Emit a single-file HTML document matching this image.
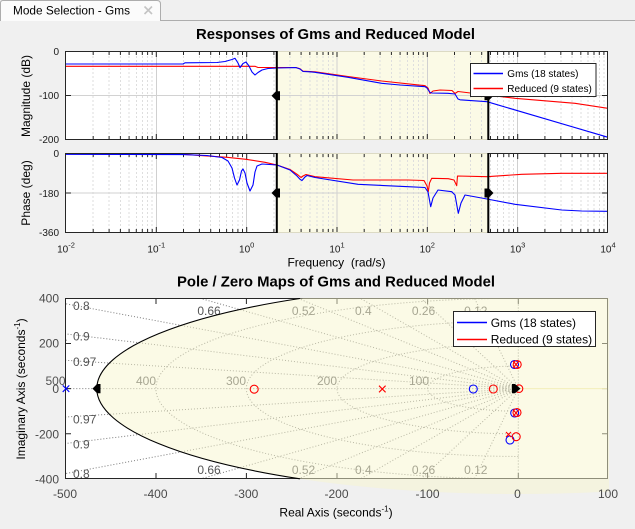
<!DOCTYPE html>
<html><head><meta charset="utf-8"><style>
html,body{margin:0;padding:0;background:#f0f0f0;width:635px;height:529px;overflow:hidden;}
svg{display:block;font-family:"Liberation Sans",Arial,sans-serif;}
</style></head><body>
<svg width="635" height="529" viewBox="0 0 635 529" xmlns="http://www.w3.org/2000/svg">
<defs>
<clipPath id="cMag"><rect x="66" y="52" width="541" height="87"/></clipPath>
<clipPath id="cPh"><rect x="66" y="154" width="541" height="78"/></clipPath>
<clipPath id="cPz"><rect x="66" y="299" width="541" height="179.5"/></clipPath>
<clipPath id="cPzB"><rect x="65" y="298" width="544" height="481"/></clipPath>
<path id="mg" d="M93.2 0V240M109.1 0V240M120.4 0V240M129.1 0V240M136.3 0V240M142.3 0V240M147.6 0V240M152.2 0V240M183.5 0V240M199.4 0V240M210.7 0V240M219.5 0V240M226.6 0V240M232.7 0V240M237.9 0V240M242.5 0V240M273.9 0V240M289.8 0V240M301.1 0V240M309.8 0V240M317 0V240M323 0V240M328.3 0V240M332.9 0V240M364.2 0V240M380.1 0V240M391.4 0V240M400.1 0V240M407.3 0V240M413.3 0V240M418.6 0V240M423.2 0V240M454.5 0V240M470.4 0V240M481.7 0V240M490.5 0V240M497.6 0V240M503.7 0V240M508.9 0V240M513.5 0V240M544.9 0V240M560.8 0V240M572.1 0V240M580.8 0V240M588 0V240M594 0V240M599.3 0V240M603.9 0V240"/>
<path id="Mg" d="M156.3 0V240M246.7 0V240M337 0V240M427.3 0V240M517.7 0V240"/>
<path id="tk" d="M93.2 0v3M109.1 0v3M120.4 0v3M129.1 0v3M136.3 0v3M142.3 0v3M147.6 0v3M152.2 0v3M183.5 0v3M199.4 0v3M210.7 0v3M219.5 0v3M226.6 0v3M232.7 0v3M237.9 0v3M242.5 0v3M273.9 0v3M289.8 0v3M301.1 0v3M309.8 0v3M317 0v3M323 0v3M328.3 0v3M332.9 0v3M364.2 0v3M380.1 0v3M391.4 0v3M400.1 0v3M407.3 0v3M413.3 0v3M418.6 0v3M423.2 0v3M454.5 0v3M470.4 0v3M481.7 0v3M490.5 0v3M497.6 0v3M503.7 0v3M508.9 0v3M513.5 0v3M544.9 0v3M560.8 0v3M572.1 0v3M580.8 0v3M588 0v3M594 0v3M599.3 0v3M603.9 0v3M156.3 0v5M246.7 0v5M337 0v5M427.3 0v5M517.7 0v5"/>
</defs>
<rect width="635" height="529" fill="#f0f0f0"/>

<!-- Tab -->
<path d="M0.5 21V3Q0.5 0.5 3 0.5H157Q160.5 0.5 160.5 4V21" fill="#fbfbfb" stroke="#adadad"/>
<path d="M160.5 20.5H635" stroke="#adadad"/>
<text x="13" y="14.5" font-size="11.5" fill="#000" textLength="117" lengthAdjust="spacingAndGlyphs">Mode Selection - Gms</text>
<path d="M144.5 6.5L152 14M152 6.5L144.5 14" stroke="#c4c4c4" stroke-width="1.6"/>

<!-- Bode title -->
<text x="335.5" y="39" font-size="14.7" font-weight="bold" text-anchor="middle" textLength="279" lengthAdjust="spacingAndGlyphs">Responses of Gms and Reduced Model</text>

<!-- ===== Magnitude axes ===== -->
<rect x="65.5" y="51.5" width="542" height="88" fill="#fff"/>
<rect x="277" y="51.5" width="211" height="88" fill="#fbfae6"/>
<g clip-path="url(#cMag)">
<use href="#mg" stroke="#dedede" stroke-width="1" stroke-dasharray="2 2" shape-rendering="crispEdges"/>
<use href="#Mg" stroke="#d0d0d0" stroke-width="1" shape-rendering="crispEdges"/>
<path d="M66 95.5H607" stroke="#d2d2d2" shape-rendering="crispEdges"/>
</g>
<g stroke="#262626" stroke-width="1" fill="none">
<use href="#tk" transform="translate(0,52)"/>
<use href="#tk" transform="translate(0,139) scale(1,-1)"/>
<path d="M66 95.5h5M607 95.5h-5"/>
<path d="M65.5 51V140M607.5 51V140M65 51.5H277M488 51.5H608M65 139.5H277M488 139.5H608"/>
</g>
<path d="M277 51.5H488M277 139.5H488" stroke="#dcdac4"/>
<g clip-path="url(#cMag)" fill="none" stroke-width="1.1" stroke-linejoin="round">
<polyline stroke="#ff0000" points="66,66.3 255,66.3 258,67.5 296,67.5 300,68.8 303,71.2 315,71.8 348,76.5 381.7,81 425,85.7 428,88 430,93.5 433,91 440,90 452,90.5 455,93.5 458,91.5 487,95 515,98.3 575,103.3 608,108.3"/>
<polyline stroke="#0000ff" points="66,64 183,64 185,62.8 217,62.5 225,61.5 232,59.5 235,58.3 238,63 240,67.7 243,63.5 246,62 249,66 252,72 255,75 258,72.5 262,70 268,68.5 277,68 296,67.6 300,69 303,71.5 310,71.8 315,72.3 348,77.3 381.7,83.3 400,85 425,86.7 427,88 430,92.5 432,93 448,93.3 455,94 458,99 460,99.8 487,101.7 608,137.3"/>
</g>
<path d="M276.8 51V140M488.3 51V140" stroke="#000" stroke-width="2"/>
<polygon points="271.5,95.7 276,91.3 280,91.3 280,100.3 276,100.3" fill="#000"/>
<polygon points="484.5,91.3 489,91.3 493.5,95.7 489,100.3 484.5,100.3" fill="#000"/>
<!-- legend -->
<rect x="470.5" y="63.5" width="125.5" height="33" fill="#fff" stroke="#262626"/>
<path d="M473.5 73.5H503" stroke="#0000ff" stroke-width="1.4"/>
<path d="M473.5 88.5H503" stroke="#ff0000" stroke-width="1.4"/>
<text x="507.3" y="77" font-size="10" fill="#000">Gms (18 states)</text>
<text x="507.3" y="92" font-size="10" fill="#000">Reduced (9 states)</text>
<!-- mag tick labels -->
<g font-size="10" fill="#1a1a1a" text-anchor="end">
<text x="59" y="55.2">0</text>
<text x="59" y="99.2">-100</text>
<text x="59" y="143.2">-200</text>
</g>
<text transform="translate(30,96) rotate(-90)" font-size="12" text-anchor="middle" fill="#000">Magnitude (dB)</text>

<!-- ===== Phase axes ===== -->
<rect x="65.5" y="153.5" width="542" height="79" fill="#fff"/>
<rect x="277" y="153.5" width="211" height="79" fill="#fbfae6"/>
<g clip-path="url(#cPh)">
<use href="#mg" stroke="#dedede" stroke-width="1" stroke-dasharray="2 2" shape-rendering="crispEdges"/>
<use href="#Mg" stroke="#d0d0d0" stroke-width="1" shape-rendering="crispEdges"/>
<path d="M66 193H607" stroke="#d2d2d2" shape-rendering="crispEdges"/>
</g>
<g stroke="#262626" stroke-width="1" fill="none">
<use href="#tk" transform="translate(0,154)"/>
<use href="#tk" transform="translate(0,232) scale(1,-1)"/>
<path d="M66 193h5M607 193h-5"/>
<path d="M65.5 153V233M607.5 153V233M65 153.5H277M488 153.5H608M65 232.5H277M488 232.5H608"/>
</g>
<path d="M277 153.5H488M277 232.5H488" stroke="#dcdac4"/>
<g clip-path="url(#cPh)" fill="none" stroke-width="1.1" stroke-linejoin="round">
<polyline stroke="#ff0000" points="66,154 183,154.3 227,157.3 246,159.3 265,162.3 277,165 290,169.5 298,175 301,177.5 303,176 306,174.5 315,176.7 353,180 408,180 424,180.5 427,186 428.3,191.7 429.5,183 431.7,178.3 448.3,178.7 454,180 456.7,185.7 457.5,176 487,176.7 521.7,174.3 561.7,173.3 608,173.3"/>
<polyline stroke="#0000ff" points="66,154.3 183,154.6 207,155.5 222,157.5 228,161 232,168 234.5,178 237,185 239.5,180 241.5,171 243,169 245,173 247,183 250,191 253,185 255,172 257,166 262,164 277,165 290,170 297,176 300,179.3 302,180.5 305,177 307,175.5 315,177.5 358,184.3 408,186.7 425,187.5 428,192 430.7,206.7 433,198 438,190 451.7,191.7 455,195 458.3,213.3 461,203 465,195 487,199 515,204.3 561.7,210 581.7,211 608,211.3"/>
</g>
<path d="M276.8 153V233M488.3 153V233" stroke="#000" stroke-width="2"/>
<polygon points="271.5,193 276,188.5 280,188.5 280,197.5 276,197.5" fill="#000"/>
<polygon points="484.5,188.5 489,188.5 493.5,193 489,197.5 484.5,197.5" fill="#000"/>
<g font-size="10" fill="#1a1a1a" text-anchor="end">
<text x="59" y="157.2">0</text>
<text x="59" y="196.8">-180</text>
<text x="59" y="236.2">-360</text>
</g>
<text transform="translate(30,193) rotate(-90)" font-size="12" text-anchor="middle" fill="#000">Phase (deg)</text>
<g font-size="10" fill="#1a1a1a" text-anchor="middle">
<text x="66" y="252.5">10<tspan font-size="7.5" dy="-5">-2</tspan></text>
<text x="156.3" y="252.5">10<tspan font-size="7.5" dy="-5">-1</tspan></text>
<text x="246.7" y="252.5">10<tspan font-size="7.5" dy="-5">0</tspan></text>
<text x="337" y="252.5">10<tspan font-size="7.5" dy="-5">1</tspan></text>
<text x="427.3" y="252.5">10<tspan font-size="7.5" dy="-5">2</tspan></text>
<text x="517.7" y="252.5">10<tspan font-size="7.5" dy="-5">3</tspan></text>
<text x="608" y="252.5">10<tspan font-size="7.5" dy="-5">4</tspan></text>
</g>
<text x="336.5" y="266.5" font-size="12" text-anchor="middle" fill="#000" xml:space="preserve">Frequency  (rad/s)</text>

<!-- ===== Pole/Zero ===== -->
<text x="336" y="286.7" font-size="14.7" font-weight="bold" text-anchor="middle" textLength="318" lengthAdjust="spacingAndGlyphs">Pole / Zero Maps of Gms and Reduced Model</text>
<rect x="65.5" y="298.5" width="542" height="180" fill="#fff"/>
<g clip-path="url(#cPz)" fill="none" stroke="#7a7a7a" stroke-width="1" stroke-dasharray="1 2">
<path d="M518.3 388.65L474.6 298.5M518.3 388.65L474.6 478.8M518.3 388.65L421 298.5M518.3 388.65L421 478.8M518.3 388.65L360.6 298.5M518.3 388.65L360.6 478.8M518.3 388.65L298.4 298.5M518.3 388.65L298.4 478.8M518.3 388.65L200.9 298.5M518.3 388.65L200.9 478.8M518.3 388.65L66 303.8M518.3 388.65L66 473.5M518.3 388.65L66 333.9M518.3 388.65L66 443.4M518.3 388.65L66 360.3M518.3 388.65L66 417M518.3 388.65L66 388.65M518.3 298.5V478.8"/>
<path d="M518.3 366.05A90.65 22.6 0 0 0 518.3 411.25M518.3 343.45A181.3 45.2 0 0 0 518.3 433.85M518.3 320.85A271.95 67.8 0 0 0 518.3 456.45M518.3 298.25A362.6 90.4 0 0 0 518.3 479.05M518.3 386.4A9.1 2.26 0 0 0 518.3 390.9M518.3 385.5A12.7 3.16 0 0 0 518.3 391.8M518.3 384.6A16.3 4.07 0 0 0 518.3 392.7"/>
<path d="M66.6 340A453.25 113 0 0 0 66.6 437" />
</g>
<g font-size="12" fill="#555">
<text x="73" y="310">0.8</text>
<text x="73" y="340.7">0.9</text>
<text x="73" y="366">0.97</text>
<text x="73" y="423.3">0.97</text>
<text x="73" y="448.3">0.9</text>
<text x="73" y="478">0.8</text>
<text x="209" y="315" text-anchor="middle">0.66</text>
<text x="209" y="474" text-anchor="middle">0.66</text>
<text x="65.5" y="385" text-anchor="end">500</text>
<text x="303.5" y="315" text-anchor="middle">0.52</text>
<text x="303.5" y="474" text-anchor="middle">0.52</text>
<text x="363.3" y="315" text-anchor="middle">0.4</text>
<text x="363.3" y="474" text-anchor="middle">0.4</text>
<text x="423.5" y="315" text-anchor="middle">0.26</text>
<text x="423.5" y="474" text-anchor="middle">0.26</text>
<text x="475.8" y="315" text-anchor="middle">0.12</text>
<text x="475.8" y="474" text-anchor="middle">0.12</text>
<text x="156" y="385" text-anchor="end">400</text>
<text x="246" y="385" text-anchor="end">300</text>
<text x="337" y="385" text-anchor="end">200</text>
<text x="429" y="385" text-anchor="end">100</text>
</g>
<g stroke="#262626" stroke-width="1" fill="none">
<path d="M156 299v5M246.4 299v5M337 299v5M427.6 299v5M518.3 299v5M156 478v-5M246.4 478v-5M337 478v-5M427.6 478v-5M518.3 478v-5"/>
<path d="M66 343.5h5M66 388.6h5M66 433.7h5M607 343.5h-5M607 388.6h-5M607 433.7h-5"/>
<path d="M65.5 298V479M607.5 298V479M65 298.5H608M65 478.5H608"/>
</g>
<g clip-path="url(#cPzB)"><ellipse cx="518.3" cy="388.65" rx="421.5" ry="105.4" fill="#f8f6cd" opacity="0.5"/></g>
<path d="M518.5 388.65H607" stroke="#f3eebb" stroke-width="1"/>
<path d="M299.9 298.5A421.5 105.4 0 0 0 299.9 478.8" fill="none" stroke="#000" stroke-width="1.1"/>
<!-- markers -->
<g fill="none" stroke-width="1.1">
<path d="M62.7 385.35L69.3 391.95M69.3 385.35L62.7 391.95" stroke="#0000ff"/>
<path d="M379 385.7L385.6 392.3M385.6 385.7L379 392.3" stroke="#ff0000"/>
<circle cx="254.2" cy="389.2" r="4" stroke="#ff0000"/>
<circle cx="473.3" cy="389" r="4" stroke="#0000ff"/>
<circle cx="493.3" cy="389" r="4" stroke="#ff0000"/>
<circle cx="514.5" cy="364.5" r="4" stroke="#0000ff"/>
<circle cx="517.2" cy="364.5" r="4" stroke="#ff0000"/>
<path d="M513 361L519 368M519 361L513 368" stroke="#ff0000"/>
<circle cx="514.7" cy="413" r="4" stroke="#0000ff"/>
<circle cx="517" cy="412.5" r="4" stroke="#ff0000"/>
<path d="M513 409.5L519 416.5M519 409.5L513 416.5" stroke="#ff0000"/>
<circle cx="510" cy="440" r="4" stroke="#0000ff"/>
<circle cx="516.2" cy="436.7" r="4" stroke="#ff0000"/>
<path d="M506 432L511 437M511 432L506 437" stroke="#ff0000"/>
<circle cx="519" cy="388.65" r="3.8" stroke="#ff0000"/>
</g>
<polygon points="92.5,388.65 97,384 100.5,384 100.5,393.3 97,393.3" fill="#000"/>
<polygon points="512,384 515,384 520.5,388.65 515,393.3 512,393.3" fill="#000"/>
<!-- pz legend -->
<rect x="453.5" y="311.5" width="142" height="35" fill="#fff" stroke="#262626"/>
<path d="M457 322.5H487" stroke="#0000ff" stroke-width="1.4"/>
<path d="M457 339.5H487" stroke="#ff0000" stroke-width="1.4"/>
<text x="490.7" y="326.8" font-size="12" fill="#000">Gms (18 states)</text>
<text x="490.7" y="343.5" font-size="12" fill="#000">Reduced (9 states)</text>
<!-- pz tick labels -->
<g font-size="12" fill="#4a4a4a" text-anchor="end">
<text x="59" y="302.5">400</text>
<text x="59" y="347.7">200</text>
<text x="59" y="393">0</text>
<text x="59" y="438.5">-200</text>
<text x="59" y="483.5">-400</text>
</g>
<g font-size="12" fill="#4a4a4a" text-anchor="middle">
<text x="65" y="498">-500</text>
<text x="155.5" y="498">-400</text>
<text x="246.3" y="498">-300</text>
<text x="336.5" y="498">-200</text>
<text x="427.5" y="498">-100</text>
<text x="517.5" y="498">0</text>
<text x="608" y="498">100</text>
</g>
<text x="336" y="516.7" font-size="12" text-anchor="middle" fill="#000">Real Axis (seconds<tspan font-size="8" dy="-5">-1</tspan><tspan dy="5">)</tspan></text>
<text transform="translate(25,389) rotate(-90)" font-size="12" text-anchor="middle" fill="#000">Imaginary Axis (seconds<tspan font-size="8" dy="-5">-1</tspan><tspan dy="5">)</tspan></text>
</svg>
</body></html>
